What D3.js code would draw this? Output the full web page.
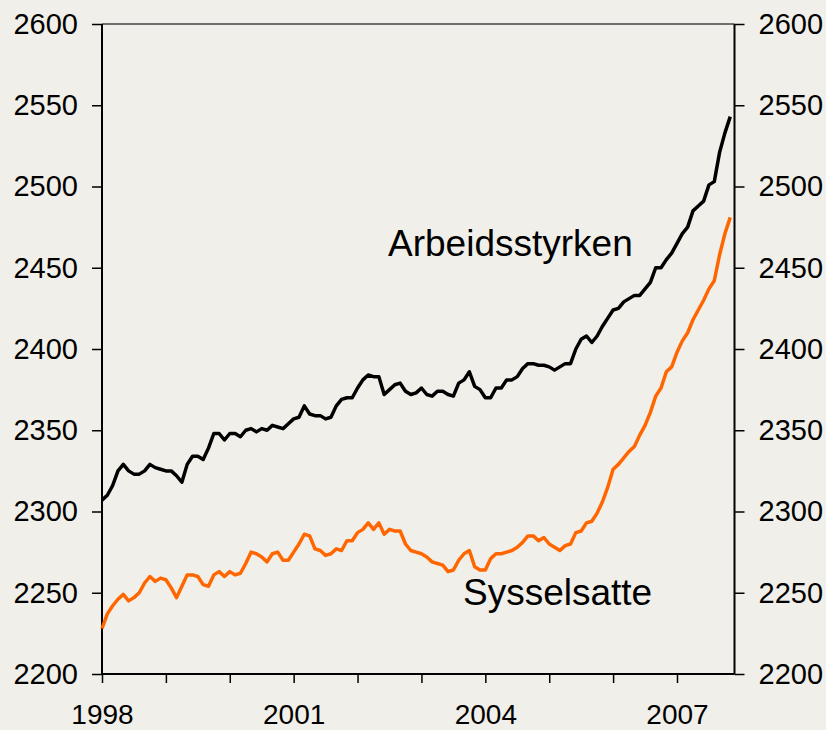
<!DOCTYPE html>
<html>
<head>
<meta charset="utf-8">
<script src="https://cdn.jsdelivr.net/npm/d3@7"></script>
<style>
  body { margin: 0; background: #f0efe9; }
  svg { display: block; font-family: "Liberation Sans", Arial, sans-serif; }
</style>
</head>
<body>
<svg id="chart" width="826" height="730"></svg>
<script>
// monthly, jan 1998 - nov 2007 (thousands)
const arbeidsstyrken = [
  2307, 2310, 2316, 2325, 2329, 2325, 2323, 2323, 2325, 2329, 2327, 2326,
  2325, 2325, 2322, 2318, 2329, 2334, 2334, 2332, 2339, 2348, 2348, 2344,
  2348, 2348, 2346, 2350, 2351, 2349, 2351, 2350, 2353, 2352, 2351, 2354,
  2357, 2358, 2365, 2360, 2359, 2359, 2357, 2358, 2365, 2369, 2370, 2370,
  2376, 2381, 2384, 2383, 2383, 2372, 2375, 2378, 2379, 2374, 2372, 2373,
  2376, 2372, 2371, 2374, 2374, 2372, 2371, 2379, 2381, 2386, 2377, 2375,
  2370, 2370, 2376, 2376, 2381, 2381, 2383, 2388, 2391, 2391, 2390, 2390,
  2389, 2387, 2389, 2391, 2391, 2400, 2406, 2408, 2404, 2408, 2414, 2419,
  2424, 2425, 2429, 2431, 2433, 2433, 2437, 2441, 2450, 2450, 2455, 2459,
  2465, 2471, 2475, 2485, 2488, 2491, 2501, 2503, 2521, 2533, 2543
];
const sysselsatte = [
  2228, 2237, 2242, 2246, 2249, 2245, 2247, 2250, 2256, 2260, 2257, 2259,
  2258, 2253, 2247, 2254, 2261, 2261, 2260, 2255, 2254, 2261, 2263, 2260,
  2263, 2261, 2262, 2268, 2275, 2274, 2272, 2269, 2274, 2275, 2270, 2270,
  2275, 2280, 2286, 2285, 2277, 2276, 2273, 2274, 2277, 2276, 2282, 2282,
  2287, 2289, 2293, 2289, 2293, 2286, 2289, 2288, 2288, 2280, 2276, 2275,
  2274, 2272, 2269, 2268, 2267, 2263, 2264, 2270, 2274, 2276, 2266, 2264,
  2264, 2271, 2274, 2274, 2275, 2276, 2278, 2281, 2285, 2285, 2282, 2284,
  2280, 2278, 2276, 2279, 2280, 2287, 2288, 2293, 2294, 2299, 2306, 2315,
  2326, 2329, 2333, 2337, 2340, 2347, 2353, 2361, 2371, 2376, 2386, 2389,
  2398, 2405, 2410, 2418, 2424, 2430, 2437, 2442, 2458, 2471, 2481
];
const years = [1998, 1999, 2000, 2001, 2002, 2003, 2004, 2005, 2006, 2007];
const labelYears = [1998, 2001, 2004, 2007];
const yTicks = [2200, 2250, 2300, 2350, 2400, 2450, 2500, 2550, 2600];

const svg = d3.select("#chart");
const mLeft = 102, mRight = 734.5, mTop = 24, mBottom = 674;

const x = d3.scaleLinear().domain([0, 118.8]).range([mLeft, mRight]);
const y = d3.scaleLinear().domain([2200, 2600]).range([mBottom, mTop]);

// y axes, left and right
const yLeft = svg.append("g")
  .attr("transform", `translate(${mLeft},0)`)
  .call(d3.axisLeft(y).tickValues(yTicks).tickFormat(d3.format("d"))
    .tickSize(10).tickPadding(14));
const yRight = svg.append("g")
  .attr("transform", `translate(${mRight},0)`)
  .call(d3.axisRight(y).tickValues(yTicks).tickFormat(d3.format("d"))
    .tickSize(10).tickPadding(14));

// x axis, tick every january
const xAxis = svg.append("g")
  .attr("transform", `translate(0,${mBottom})`)
  .call(d3.axisBottom(x)
    .tickValues(years.map(yr => (yr - 1998) * 12))
    .tickSize(9).tickPadding(21)
    .tickFormat(d => {
      const yr = 1998 + d / 12;
      return labelYears.includes(yr) ? yr : "";
    }));

[yLeft, yRight, xAxis].forEach(g => {
  g.select(".domain").remove();
  g.selectAll(".tick line").attr("stroke", "#000").attr("stroke-width", 1.5);
  g.selectAll("text").attr("font-size", 29).attr("fill", "#000");
});
xAxis.selectAll("text").attr("font-size", 28);

// frame
svg.append("line").attr("x1", mLeft).attr("x2", mRight).attr("y1", mTop).attr("y2", mTop)
  .attr("stroke", "#444").attr("stroke-width", 1.5);
svg.append("line").attr("x1", mLeft).attr("x2", mLeft).attr("y1", mTop).attr("y2", mBottom)
  .attr("stroke", "#000").attr("stroke-width", 2);
svg.append("line").attr("x1", mRight).attr("x2", mRight).attr("y1", mTop).attr("y2", mBottom)
  .attr("stroke", "#000").attr("stroke-width", 2);
svg.append("line").attr("x1", mLeft).attr("x2", mRight).attr("y1", mBottom).attr("y2", mBottom)
  .attr("stroke", "#000").attr("stroke-width", 2);

const line = d3.line().x((d, i) => x(i)).y(d => y(d));

svg.append("path").datum(arbeidsstyrken)
  .attr("fill", "none").attr("stroke", "#000").attr("stroke-width", 3.5)
  .attr("stroke-linejoin", "round").attr("d", line);
svg.append("path").datum(sysselsatte)
  .attr("fill", "none").attr("stroke", "#ff6600").attr("stroke-width", 3.5)
  .attr("stroke-linejoin", "round").attr("d", line);

svg.append("text").attr("x", 388).attr("y", 256)
  .attr("font-size", 37).text("Arbeidsstyrken");
svg.append("text").attr("x", 463).attr("y", 605)
  .attr("font-size", 37).text("Sysselsatte");
</script>
</body>
</html>
